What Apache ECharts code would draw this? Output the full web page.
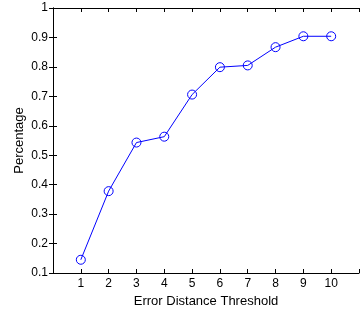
<!DOCTYPE html>
<html><head><meta charset="utf-8">
<script src="https://cdn.jsdelivr.net/npm/echarts@6/dist/echarts.min.js"></script>
<style>html,body{margin:0;padding:0;background:#fff}#c{width:362px;height:313px}</style>
</head><body><div id="c"></div>
<script>
const thresholds = [1, 2, 3, 4, 5, 6, 7, 8, 9, 10];
const percentages = [0.145, 0.378, 0.543, 0.563, 0.706, 0.799, 0.805, 0.867, 0.904, 0.904];
const yTicks = [0.1, 0.2, 0.3, 0.4, 0.5, 0.6, 0.7, 0.8, 0.9, 1];
const xLabel = 'Error Distance Threshold';
const yLabel = 'Percentage';

const font = 'Liberation Sans, Arial, Helvetica, sans-serif';
const chart = echarts.init(document.getElementById('c'), null, {renderer: 'canvas'});
const axisCommon = {
  axisLine: {show: true, lineStyle: {color: '#000', width: 1}},
  axisTick: {show: true, inside: true, length: 4, lineStyle: {color: '#000', width: 1}},
  splitLine: {show: false}
};
chart.setOption({
  animation: false,
  grid: {left: 53, top: 8, bottom: 36, right: -8.5, containLabel: false},
  xAxis: [
    Object.assign({
      type: 'value', min: 0, max: 11, interval: 1, position: 'bottom',
      name: xLabel, nameLocation: 'middle', nameGap: 22, nameMoveOverlap: false,
      nameTextStyle: {fontFamily: font, fontSize: 13, color: '#000'},
      axisLabel: {fontFamily: font, fontSize: 12, color: '#000', margin: 5,
        formatter: v => (thresholds.indexOf(v) >= 0 ? String(v) : '')},
    }, axisCommon),
    Object.assign({
      type: 'value', min: 0, max: 11, interval: 1, position: 'top',
      axisLabel: {show: false}
    }, axisCommon)
  ],
  yAxis: [
    Object.assign({
      type: 'value', min: 0.1, max: 1, interval: 0.1, position: 'left',
      name: yLabel, nameLocation: 'middle', nameGap: 27, nameRotate: 90, nameMoveOverlap: false,
      nameTextStyle: {fontFamily: font, fontSize: 13, color: '#000'},
      axisLabel: {fontFamily: font, fontSize: 12, color: '#000', margin: 5,
        formatter: v => {
          const r = Math.round(v * 10) / 10;
          return yTicks.indexOf(r) >= 0 ? String(r) : '';
        }},
    }, axisCommon),
    Object.assign({
      type: 'value', min: 0.1, max: 1, interval: 0.1, position: 'right',
      axisLabel: {show: false}
    }, axisCommon)
  ],
  series: [{
    type: 'line',
    data: thresholds.map((t, i) => [t, percentages[i]]),
    symbol: 'circle', symbolSize: 9,
    lineStyle: {color: '#0000ff', width: 1},
    itemStyle: {color: 'rgba(0,0,0,0)', borderColor: '#0000ff', borderWidth: 1},
    showSymbol: true
  }]
});
</script></body></html>
